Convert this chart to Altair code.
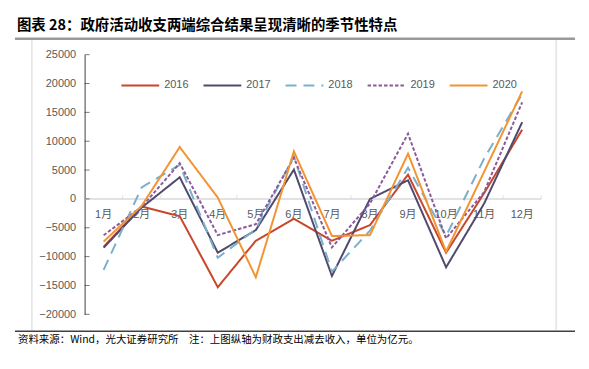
import altair as alt
import pandas as pd

months = list(range(1, 13))
month_labels = [f"{m}月" for m in months]
years = ["2016", "2017", "2018", "2019", "2020"]

v2016 = [-8300, -1300, -3000, -15300, -7250, -3450, -7250, -4540, 4210, -9320, 1000, 12000]
v2017 = [-8450, -1500, 3750, -9320, -5400, 5080, -13350, 0, 3230, -11850, -800, 13300]
v2018 = [-12300, 2000, 5900, -10200, -5240, 7370, -12600, -5500, 5420, -6440, 7000, 18200]
v2019 = [-6300, -1400, 6200, -6270, -4370, 7150, -8400, -800, 11300, -6840, 1200, 16750]
v2020 = [-7400, -1200, 8980, 240, -13580, 8240, -6440, -6270, 7840, -9150, 4700, 18650]

y_ticks = [-20000, -15000, -10000, -5000, 0, 5000, 10000, 15000, 20000, 25000]

colors = ["#C8462A", "#504A6E", "#7BAFCB", "#8B5A9A", "#F39433"]
dashes = [[1, 0], [1, 0], [11, 7], [3.5, 2], [1, 0]]

title_text = "图表 28：政府活动收支两端综合结果呈现清晰的季节性特点"
source_text = "资料来源：Wind，光大证券研究所　注：上图纵轴为财政支出减去收入，单位为亿元。"

series = {"2016": v2016, "2017": v2017, "2018": v2018, "2019": v2019, "2020": v2020}
rows = []
for y in years:
    for m, v in zip(months, series[y]):
        rows.append({"month": m, "year": y, "value": v})
df = pd.DataFrame(rows)
mdf = pd.DataFrame({"month": months, "label": month_labels,
                    "bound": [m + 0.5 for m in months], "zero": [0] * 12})
tdf = pd.DataFrame({"tick": y_ticks, "left": [0.5] * len(y_ticks)})

FONT = "Liberation Sans, Noto Sans CJK SC"
GRAY = "#595959"

xs = alt.Scale(domain=[0.5, 12.5], nice=False, zero=False)
ys = alt.Scale(domain=[-20000, 25000], nice=False)

yaxis = alt.Axis(values=y_ticks, format="d", ticks=False, tickSize=0, domainColor="#404040",
                 domainWidth=1, labelColor=GRAY, labelFontSize=11, labelPadding=9, grid=False,
                 title=None, labelFont=FONT)

zero = alt.Chart(mdf).mark_rule(color="#d9d9d9", strokeWidth=1.5).encode(
    y=alt.Y("zero:Q", scale=ys, axis=yaxis),
).transform_filter("datum.month == 1")

xticks = alt.Chart(mdf).mark_tick(
    orient="vertical", size=4, yOffset=-2, color="#d9d9d9", thickness=1
).encode(x=alt.X("bound:Q", scale=xs, axis=None), y=alt.Y("zero:Q", scale=ys, axis=yaxis))

xlabels = alt.Chart(mdf).mark_text(
    dy=16, fontSize=11, color=GRAY, font=FONT
).encode(x=alt.X("month:Q", scale=xs, axis=None), y=alt.Y("zero:Q", scale=ys, axis=yaxis),
         text="label:N")

leg = alt.Legend(title=None, orient="none", legendX=36, legendY=11,
                 direction="horizontal", columns=5,
                 symbolType="stroke", symbolSize=1444,
                 symbolStrokeWidth=2, labelOffset=4,
                 columnPadding=10.5, padding=0,
                 labelFontSize=11, labelColor=GRAY, labelFont=FONT)

lines = alt.Chart(df).mark_line(strokeWidth=2).encode(
    x=alt.X("month:Q", scale=xs, axis=None),
    y=alt.Y("value:Q", scale=ys, axis=yaxis),
    color=alt.Color("year:N", scale=alt.Scale(domain=years, range=colors), legend=leg),
    strokeDash=alt.StrokeDash("year:N", scale=alt.Scale(domain=years, range=dashes), legend=leg),
)

yticks = alt.Chart(tdf).mark_tick(
    orient="horizontal", size=5, xOffset=2.5, color="#404040", thickness=1
).encode(x=alt.X("left:Q", scale=xs, axis=None), y=alt.Y("tick:Q", scale=ys, axis=yaxis))

one = pd.DataFrame({"a": [0]})
title = alt.Chart(one).mark_text(
    align="left", baseline="middle", fontSize=14.5, fontWeight="bold",
    font="Noto Sans CJK SC", color="#000000", text=title_text
).encode(x=alt.value(-68), y=alt.value(-29))
top_line = alt.Chart(one).mark_rule(color="#9a9a9a", strokeWidth=2.5).encode(
    x=alt.value(-70), x2=alt.value(493), y=alt.value(-16))
bottom_line = alt.Chart(one).mark_rule(color="#404040", strokeWidth=1.5).encode(
    x=alt.value(-70), x2=alt.value(493), y=alt.value(278))
left_frame = alt.Chart(one).mark_rule(color="#e3e3e3", strokeWidth=1.5).encode(
    x=alt.value(-53), y=alt.value(-15), y2=alt.value(277))
right_frame = alt.Chart(one).mark_rule(color="#e3e3e3", strokeWidth=1.5).encode(
    x=alt.value(474), y=alt.value(-15), y2=alt.value(277))
source = alt.Chart(one).mark_text(
    align="left", baseline="middle", fontSize=10.5, font="Noto Sans CJK SC",
    color="#000000", text=source_text
).encode(x=alt.value(-67), y=alt.value(287))

chart = alt.layer(
    left_frame, right_frame, zero, xticks, xlabels, lines, yticks,
    title, top_line, bottom_line, source
).properties(
    width=459, height=261,
    autosize=alt.AutoSizeParams(type="none"),
    padding={"left": 77, "top": 46, "right": 40, "bottom": 40},
    background="white",
).configure_view(stroke=None)

chart.save("out.html", embed_options={"renderer": "svg", "actions": False})
